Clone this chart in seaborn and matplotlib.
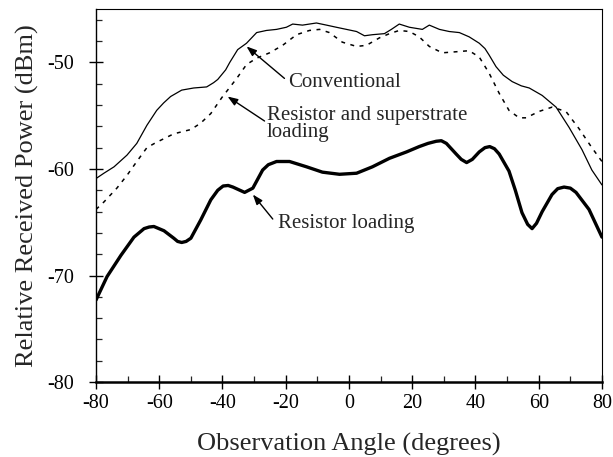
import matplotlib
matplotlib.use("Agg")
import matplotlib.pyplot as plt
from matplotlib.ticker import MultipleLocator
import seaborn as sns
import pandas as pd

# Observation angle (degrees) and received power (dBm) for each antenna variant
conv_angle = [-80, -77.5, -74.3, -70.2, -67.1, -63.9, -60.8, -58.6, -56.4, -52.9,
              -49.1, -45.0, -42.8, -41.5, -39.0, -37.7, -35.2, -32.4, -29.2, -26.1,
              -22.9, -19.8, -17.8, -14.7, -10.3, -7.1, -4.0, -0.8, 2.4, 4.9,
              7.4, 11.2, 13.4, 15.9, 19.1, 23.2, 25.4, 28.6, 31.7, 34.9,
              38.0, 41.2, 43.0, 44.3, 46.5, 48.8, 51.6, 54.5, 57.0, 61.1,
              65.5, 69.6, 73.7, 76.8, 80]
conv_power = [-60.9, -60.4, -59.8, -58.7, -57.6, -55.9, -54.5, -53.8, -53.2, -52.6,
              -52.4, -52.3, -51.9, -51.6, -50.7, -50.0, -48.8, -48.2, -47.2, -47.0,
              -46.9, -46.7, -46.4, -46.5, -46.3, -46.5, -46.7, -46.9, -47.1, -47.5,
              -47.4, -47.3, -46.9, -46.4, -46.7, -46.9, -46.5, -46.9, -47.1, -47.2,
              -47.6, -48.2, -48.7, -49.3, -50.4, -51.2, -51.8, -52.2, -52.4, -53.1,
              -54.2, -56.1, -58.2, -60.1, -61.5]

super_angle = [-80, -77.5, -73.4, -70.2, -67.1, -63.9, -61.5, -59.5, -55.4, -50.0,
               -46.9, -43.7, -40.2, -35.5, -32.4, -29.2, -25.1, -21.0, -16.6, -12.5,
               -9.3, -6.2, -2.1, 2.4, 5.5, 9.6, 12.8, 15.9, 19.1, 22.2,
               25.4, 29.5, 33.9, 38.0, 41.2, 44.3, 47.5, 50.6, 53.8, 56.0,
               60.1, 64.2, 68.6, 72.7, 76.8, 80]
super_power = [-63.8, -63.1, -61.8, -60.6, -59.3, -58.0, -57.6, -57.3, -56.7, -56.3,
               -55.7, -54.8, -53.3, -51.5, -50.2, -49.6, -49.1, -48.4, -47.4, -47.0,
               -46.9, -47.2, -48.1, -48.5, -48.4, -47.7, -47.3, -47.0, -47.1, -47.6,
               -48.5, -49.1, -49.0, -48.9, -49.5, -51.0, -52.9, -54.5, -55.2, -55.2,
               -54.6, -54.2, -54.6, -56.2, -58.0, -59.3]

res_angle = [-80, -76.5, -72.1, -68.0, -64.8, -63.2, -61.7, -58.5, -55.4, -54.2,
             -52.9, -51.5, -50.0, -46.9, -43.7, -41.5, -39.8, -38.2, -36.7, -33.0,
             -30.4, -27.3, -25.5, -22.9, -18.8, -13.4, -8.4, -3.0, 2.4, 7.4,
             12.8, 18.2, 22.2, 25.0, 27.6, 29.2, 30.8, 33.9, 35.5, 37.2,
             39.0, 41.2, 43.0, 44.5, 46.0, 47.5, 50.6, 52.6, 54.7, 56.5,
             57.9, 59.3, 61.1, 64.2, 66.0, 68.0, 70.0, 71.8, 75.9, 80]
res_power = [-72.3, -70.1, -68.1, -66.4, -65.6, -65.45, -65.4, -65.8, -66.5, -66.8,
             -66.9, -66.8, -66.5, -64.8, -62.9, -62.0, -61.6, -61.55, -61.7, -62.2,
             -61.8, -60.1, -59.6, -59.3, -59.3, -59.8, -60.3, -60.5, -60.4, -59.8,
             -59.0, -58.4, -57.9, -57.6, -57.4, -57.35, -57.6, -58.6, -59.1, -59.4,
             -59.1, -58.4, -58.0, -57.9, -58.1, -58.6, -60.2, -62.0, -64.1, -65.2,
             -65.6, -65.1, -64.0, -62.4, -61.85, -61.7, -61.8, -62.2, -63.8, -66.4]

sns.set_style("ticks")
plt.rcParams["font.family"] = ["Liberation Serif", "DejaVu Serif"]
plt.rcParams["axes.unicode_minus"] = False
plt.rcParams["lines.solid_joinstyle"] = "round"
plt.rcParams["lines.dash_joinstyle"] = "round"

fig = plt.figure(figsize=(6.13, 4.57), dpi=100)
ax = fig.add_axes([0.1566, 0.164, 0.8254, 0.816])

sns.lineplot(data=pd.DataFrame({"x": conv_angle, "y": conv_power}), x="x", y="y",
             ax=ax, color="black", linewidth=0.9, sort=False)
sns.lineplot(data=pd.DataFrame({"x": super_angle, "y": super_power}), x="x", y="y",
             ax=ax, color="black", linewidth=1.1, sort=False)
ax.lines[-1].set_linestyle((0, (2.6, 3.6)))
sns.lineplot(data=pd.DataFrame({"x": res_angle, "y": res_power}), x="x", y="y",
             ax=ax, color="black", linewidth=2.4, sort=False)

ax.set_xlim(-80, 80)
ax.set_ylim(-80, -45)
ax.xaxis.set_major_locator(MultipleLocator(20))
ax.xaxis.set_minor_locator(MultipleLocator(10))
ax.yaxis.set_major_locator(MultipleLocator(10))
ax.yaxis.set_minor_locator(MultipleLocator(2))
ax.tick_params(which="major", direction="inout", length=9.5, width=1.0,
               labelsize=14.5, colors="black")
ax.tick_params(axis="x", which="major", pad=4)
ax.tick_params(axis="y", which="major", pad=11)
ax.tick_params(which="minor", direction="in", length=4, width=0.9)

for side in ["top", "right"]:
    ax.spines[side].set_visible(True)
    ax.spines[side].set_linewidth(0.8)
    ax.spines[side].set_color("black")
ax.spines["left"].set_linewidth(1.0)
ax.spines["bottom"].set_linewidth(1.8)
ax.spines["left"].set_color("black")
ax.spines["bottom"].set_color("black")

ax.set_xlabel("Observation Angle (degrees)", fontsize=19, labelpad=14)
ax.set_ylabel("Relative Received Power (dBm)", fontsize=19, labelpad=6)

arrow = dict(arrowstyle="-|>,head_length=0.6,head_width=0.22", color="black",
             lw=1.0, shrinkA=0, shrinkB=0)
ax.annotate("", xy=(-32.4, -48.5), xytext=(-20.4, -51.5), arrowprops=arrow)
ax.text(-19.3, -51.9, "Conventional", fontsize=15, va="center", ha="left")

ax.annotate("", xy=(-38.4, -53.2), xytext=(-26.7, -55.5), arrowprops=arrow)
ax.text(-26.0, -54.1, "Resistor and superstrate\nloading", fontsize=15,
        va="top", ha="left", linespacing=0.85)

ax.annotate("", xy=(-30.4, -62.4), xytext=(-24.1, -64.7), arrowprops=arrow)
ax.text(-22.6, -65.1, "Resistor loading", fontsize=15, va="center", ha="left")

fig.savefig("out.png", dpi=100)
